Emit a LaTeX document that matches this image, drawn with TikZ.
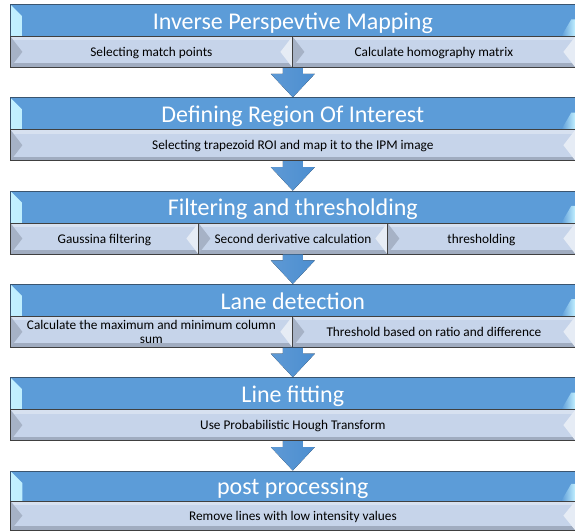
\documentclass[tikz,border=0pt]{standalone}
\usepackage{fontspec}
\setmainfont{Carlito}
\usetikzlibrary{calc}

\definecolor{hdrblue}{HTML}{5C9CD8}
\definecolor{hdredge}{HTML}{3A5570}
\definecolor{bevellight}{HTML}{C2F0FF}
\definecolor{subfill}{HTML}{C6D4EA}
\definecolor{subedge}{HTML}{404040}
\definecolor{subdark}{HTML}{A0ACC0}
\definecolor{sublight}{HTML}{E6ECF5}
\definecolor{arrowlight}{HTML}{A8DDF7}
\definecolor{arrowblue}{HTML}{4C8ED0}

\tikzset{
  header/.style={draw=hdredge, line width=0.6pt, fill=hdrblue, text=white,
    minimum width=565pt, minimum height=32pt, inner sep=0pt, anchor=north west,
    font=\fontsize{24}{28}\selectfont, text height=18pt, text depth=0pt,
    path picture={
      % bevel on the left and a small one at the lower right
      \fill[left color=bevellight, right color=hdrblue]
        (path picture bounding box.north west) -- ++(12,12)
        |- (path picture bounding box.south west) -- cycle;
      \fill[left color=hdrblue, right color=bevellight]
        (path picture bounding box.south east) ++(-14,0) -- ++(10,-17) -- ++(4,0)
        -- (path picture bounding box.south east) -- cycle;
    }},
  subbox/.style={draw=subedge, line width=0.8pt, fill=subfill, text=black,
    minimum height=31pt, inner sep=0pt, anchor=north west, align=center,
    font=\fontsize{13.3}{14}\selectfont,
    path picture={
      \fill[sublight!55!subfill] (path picture bounding box.north west)
        rectangle ([yshift=-4pt]path picture bounding box.north east);
      \fill[subdark] (path picture bounding box.south west)
        rectangle ([yshift=4pt]path picture bounding box.south east);
      \fill[subdark!85!subfill] (path picture bounding box.north west)
        -- ([xshift=12pt]path picture bounding box.west)
        -- (path picture bounding box.south west) -- cycle;
      \fill[sublight] (path picture bounding box.north east)
        -- ([xshift=-12pt]path picture bounding box.east)
        -- (path picture bounding box.south east) -- cycle;
    }},
  subline/.style={subbox, text height=9pt, text depth=0pt},
  stepfill/.style={left color=arrowblue!90, middle color=arrowlight, right color=arrowblue}
}

% block arrow from the bottom of one stage down to the next header
\newcommand\stepdown[2]{%
  \fill[stepfill] ($(#1)+(-10,0)$) -- ($(#1)+(10,0)$) -- ($(#1)+(10,6)$)
    -- ($(#1)+(22,6)$) -- (#2.north) -- ($(#1)+(-22,6)$) -- ($(#1)+(-10,6)$) -- cycle;}

\begin{document}
\begin{tikzpicture}[x=1pt,y=-1pt]
\useasboundingbox (0,0) rectangle (575,531);

% stage 1
\node[header] (ipm) at (10,4) {Inverse Perspevtive Mapping};
\node[subline, minimum width=282pt] (matchpts) at (10,36) {Selecting match points};
\node[subline, minimum width=283pt] (homography) at (292,36) {Calculate homography matrix};
\coordinate (ipmend) at (ipm.south |- matchpts.south);

% stage 2
\node[header] (roi) at (10,97.3) {Defining Region Of Interest};
\node[subline, minimum width=565pt] (trapezoid) at (10,129.3) {Selecting trapezoid ROI and map it to the IPM image};
\coordinate (roiend) at (roi.south |- trapezoid.south);

% stage 3
\node[header] (filter) at (10,190.6) {Filtering and thresholding};
\node[subline, minimum width=188pt] (gauss) at (10,222.6) {Gaussina filtering};
\node[subline, minimum width=189pt] (deriv) at (198,222.6) {Second derivative calculation};
\node[subline, minimum width=188pt] (thresh) at (387,222.6) {thresholding};
\coordinate (filterend) at (filter.south |- gauss.south);

% stage 4
\node[header] (lane) at (10,283.9) {Lane detection};
\node[subbox, minimum width=282pt] (colsum) at (10,315.9) {Calculate the maximum and minimum column\\sum};
\node[subline, minimum width=283pt] (ratio) at (292,315.9) {Threshold based on ratio and difference};
\coordinate (laneend) at (lane.south |- ratio.south);

% stage 5
\node[header] (fit) at (10,377.2) {Line fitting};
\node[subline, minimum width=565pt] (hough) at (10,409.2) {Use Probabilistic Hough Transform};
\coordinate (fitend) at (fit.south |- hough.south);

% stage 6
\node[header, minimum height=30pt] (post) at (10,470.5) {post processing};
\node[subline, minimum width=565pt, minimum height=29.5pt] (lowint) at (10,500.5) {Remove lines with low intensity values};

% arrows between the stages
\stepdown{ipmend}{roi}
\stepdown{roiend}{filter}
\stepdown{filterend}{lane}
\stepdown{laneend}{fit}
\stepdown{fitend}{post}
\end{tikzpicture}
\end{document}
